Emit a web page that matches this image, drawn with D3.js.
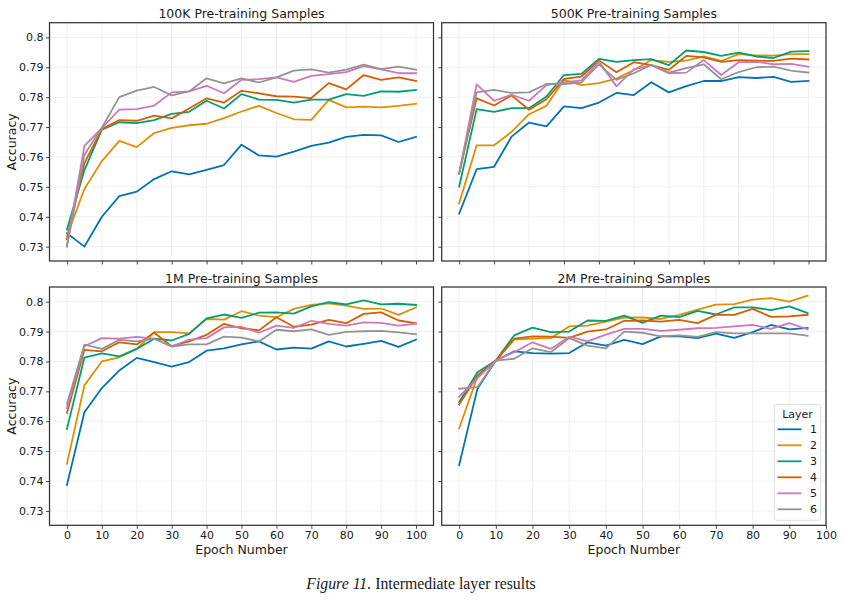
<!DOCTYPE html>
<html>
<head>
<meta charset="utf-8">
<script src="https://cdn.jsdelivr.net/npm/d3@7"></script>
<style>
  body { margin: 0; background: #fff; }
  svg { display: block; }
  text { font-family: "DejaVu Sans", sans-serif; fill: #1a1a1a; }
</style>
</head>
<body>
<svg id="chart" width="846" height="600"></svg>
<script>
// ---------------- data ----------------
const layerNames = ["1", "2", "3", "4", "5", "6"];
const layerColors = ["#0173B2", "#DE8F05", "#029E73", "#D55E00", "#CC78BC", "#949494"];
const epochs0to100 = [0,5,10,15,20,25,30,35,40,45,50,55,60,65,70,75,80,85,90,95,100];
const epochs0to95  = [0,5,10,15,20,25,30,35,40,45,50,55,60,65,70,75,80,85,90,95];
const xTicks = [0,10,20,30,40,50,60,70,80,90,100];
const yTicks = [0.73,0.74,0.75,0.76,0.77,0.78,0.79,0.80];
const panelTitles = ["100K Pre-training Samples", "500K Pre-training Samples", "1M Pre-training Samples", "2M Pre-training Samples"];

const acc100K = [
  [0.7345,0.7300,0.7400,0.7469,0.7484,0.7526,0.7552,0.7542,0.7557,0.7573,0.7641,0.7605,0.7601,0.7618,0.7637,0.7648,0.7667,0.7674,0.7672,0.7650,0.7667],
  [0.7335,0.7493,0.7586,0.7654,0.7633,0.7680,0.7697,0.7706,0.7711,0.7730,0.7752,0.7771,0.7747,0.7726,0.7724,0.7791,0.7766,0.7768,0.7766,0.7771,0.7778],
  [0.7357,0.7556,0.7691,0.7716,0.7713,0.7723,0.7744,0.7751,0.7788,0.7762,0.7810,0.7792,0.7791,0.7782,0.7792,0.7792,0.7810,0.7804,0.7819,0.7818,0.7824],
  [0.7325,0.7579,0.7693,0.7723,0.7721,0.7738,0.7729,0.7762,0.7796,0.7782,0.7821,0.7813,0.7803,0.7802,0.7797,0.7847,0.7826,0.7874,0.7858,0.7866,0.7854],
  [0.7305,0.7637,0.7696,0.7758,0.7760,0.7772,0.7816,0.7819,0.7838,0.7813,0.7858,0.7860,0.7866,0.7851,0.7871,0.7877,0.7884,0.7904,0.7893,0.7880,0.7880],
  [0.7300,0.7607,0.7698,0.7800,0.7822,0.7834,0.7806,0.7819,0.7863,0.7846,0.7863,0.7849,0.7866,0.7889,0.7893,0.7882,0.7892,0.7909,0.7894,0.7902,0.7892]
];
const acc500K = [
  [0.7411,0.7559,0.7567,0.7668,0.7715,0.7702,0.7769,0.7763,0.7782,0.7814,0.7807,0.7850,0.7816,0.7837,0.7854,0.7854,0.7867,0.7864,0.7868,0.7851,0.7854],
  [0.7445,0.7639,0.7639,0.7684,0.7743,0.7771,0.7858,0.7840,0.7847,0.7862,0.7891,0.7924,0.7918,0.7922,0.7936,0.7921,0.7944,0.7940,0.7939,0.7944,0.7944],
  [0.7501,0.7760,0.7751,0.7763,0.7763,0.7802,0.7874,0.7878,0.7928,0.7918,0.7924,0.7927,0.7907,0.7956,0.7951,0.7938,0.7949,0.7936,0.7931,0.7952,0.7954],
  [0.7545,0.7796,0.7772,0.7806,0.7758,0.7793,0.7861,0.7869,0.7923,0.7883,0.7917,0.7907,0.7891,0.7938,0.7933,0.7918,0.7924,0.7922,0.7921,0.7929,0.7926],
  [0.7545,0.7843,0.7788,0.7808,0.7788,0.7840,0.7850,0.7856,0.7919,0.7836,0.7893,0.7907,0.7880,0.7882,0.7924,0.7874,0.7917,0.7918,0.7910,0.7911,0.7902],
  [0.7543,0.7816,0.7824,0.7814,0.7816,0.7844,0.7844,0.7849,0.7910,0.7858,0.7880,0.7908,0.7882,0.7897,0.7910,0.7860,0.7884,0.7900,0.7902,0.7889,0.7882]
];
const acc1M = [
  [0.7387,0.7630,0.7711,0.7770,0.7812,0.7798,0.7783,0.7798,0.7836,0.7844,0.7857,0.7867,0.7840,0.7846,0.7843,0.7867,0.7850,0.7859,0.7869,0.7849,0.7873],
  [0.7458,0.7720,0.7800,0.7814,0.7842,0.7898,0.7898,0.7894,0.7942,0.7940,0.7968,0.7953,0.7948,0.7976,0.7989,0.7994,0.7987,0.7976,0.7977,0.7956,0.7981],
  [0.7574,0.7813,0.7827,0.7817,0.7842,0.7876,0.7870,0.7892,0.7944,0.7957,0.7946,0.7963,0.7964,0.7960,0.7984,0.7998,0.7991,0.8004,0.7991,0.7993,0.7989],
  [0.7628,0.7839,0.7834,0.7864,0.7857,0.7896,0.7851,0.7867,0.7889,0.7926,0.7911,0.7904,0.7948,0.7916,0.7923,0.7939,0.7928,0.7959,0.7964,0.7937,0.7928],
  [0.7644,0.7851,0.7878,0.7876,0.7882,0.7876,0.7850,0.7873,0.7878,0.7914,0.7916,0.7896,0.7920,0.7912,0.7936,0.7926,0.7920,0.7931,0.7929,0.7920,0.7926],
  [0.7658,0.7856,0.7842,0.7872,0.7867,0.7876,0.7850,0.7857,0.7857,0.7883,0.7880,0.7867,0.7906,0.7901,0.7907,0.7889,0.7899,0.7901,0.7902,0.7897,0.7891]
];
const acc2M = [
  [0.7453,0.7709,0.7803,0.7834,0.7828,0.7826,0.7828,0.7864,0.7853,0.7872,0.7858,0.7884,0.7884,0.7878,0.7893,0.7879,0.7898,0.7922,0.7907,0.7912],
  [0.7576,0.7750,0.7803,0.7873,0.7876,0.7878,0.7917,0.7920,0.7933,0.7947,0.7947,0.7942,0.7956,0.7973,0.7990,0.7992,0.8007,0.8012,0.8000,0.8020],
  [0.7664,0.7764,0.7803,0.7887,0.7913,0.7898,0.7900,0.7937,0.7936,0.7953,0.7929,0.7953,0.7948,0.7969,0.7957,0.7981,0.7981,0.7972,0.7984,0.7962],
  [0.7656,0.7753,0.7803,0.7876,0.7884,0.7883,0.7879,0.7900,0.7907,0.7936,0.7937,0.7933,0.7939,0.7928,0.7956,0.7956,0.7976,0.7949,0.7951,0.7956],
  [0.7682,0.7744,0.7803,0.7831,0.7864,0.7842,0.7883,0.7867,0.7890,0.7909,0.7909,0.7902,0.7906,0.7911,0.7912,0.7917,0.7922,0.7909,0.7928,0.7907],
  [0.7709,0.7714,0.7803,0.7809,0.7844,0.7831,0.7878,0.7853,0.7844,0.7900,0.7896,0.7884,0.7887,0.7882,0.7898,0.7894,0.7894,0.7894,0.7894,0.7886]
];

// ---------------- layout ----------------
const svg = d3.select("#chart");
const yDomain = [0.7252, 0.8049];
const panels = [
  { title: panelTitles[0], data: acc100K, epochs: epochs0to100, xDom: [-5, 105],    x0: 49.5,  x1: 433.5, y0: 22.7, y1: 261,   showX: false, showY: true },
  { title: panelTitles[1], data: acc500K, epochs: epochs0to100, xDom: [-5, 105],    x0: 441.7, x1: 826,   y0: 22.7, y1: 261,   showX: false, showY: false },
  { title: panelTitles[2], data: acc1M,   epochs: epochs0to100, xDom: [-5, 105],    x0: 49.5,  x1: 433.5, y0: 287,  y1: 525.3, showX: true,  showY: true },
  { title: panelTitles[3], data: acc2M,   epochs: epochs0to95,  xDom: [-4.75, 100], x0: 441.7, x1: 826,   y0: 287,  y1: 525.3, showX: true,  showY: false, legend: true }
];

panels.forEach((p, pi) => {
  const x = d3.scaleLinear().domain(p.xDom).range([p.x0, p.x1]);
  const y = d3.scaleLinear().domain(yDomain).range([p.y1, p.y0]);
  const g = svg.append("g");

  // background + grid
  g.append("rect").attr("x", p.x0).attr("y", p.y0).attr("width", p.x1 - p.x0).attr("height", p.y1 - p.y0).attr("fill", "#fff");
  g.append("g").selectAll("line").data(xTicks).join("line")
    .attr("x1", d => x(d)).attr("x2", d => x(d)).attr("y1", p.y0).attr("y2", p.y1)
    .attr("stroke", "#ececec").attr("stroke-width", 0.8);
  g.append("g").selectAll("line").data(yTicks).join("line")
    .attr("y1", d => y(d)).attr("y2", d => y(d)).attr("x1", p.x0).attr("x2", p.x1)
    .attr("stroke", "#ececec").attr("stroke-width", 0.8);

  // clip
  const clipId = "clip" + pi;
  svg.append("clipPath").attr("id", clipId).append("rect")
    .attr("x", p.x0).attr("y", p.y0).attr("width", p.x1 - p.x0).attr("height", p.y1 - p.y0);

  const line = d3.line().x((d, i) => x(p.epochs[i])).y(d => y(d));
  g.append("g").attr("clip-path", `url(#${clipId})`).selectAll("path").data(p.data).join("path")
    .attr("d", d => line(d)).attr("fill", "none")
    .attr("stroke", (d, i) => layerColors[i]).attr("stroke-width", 1.8)
    .attr("stroke-linejoin", "round").attr("stroke-linecap", "square");

  // axes
  const xAxis = d3.axisBottom(x).tickValues(xTicks).tickSize(3.5).tickPadding(2.5)
    .tickFormat(p.showX ? d3.format("d") : () => "");
  const yAxis = d3.axisLeft(y).tickValues(yTicks).tickSize(3.5).tickPadding(2.5)
    .tickFormat(p.showY ? (d => (Math.round(d * 100) / 100).toString()) : () => "");
  const gx = g.append("g").attr("transform", `translate(0,${p.y1})`).call(xAxis);
  const gy = g.append("g").attr("transform", `translate(${p.x0},0)`).call(yAxis);
  [gx, gy].forEach(a => {
    a.select(".domain").remove();
    a.selectAll(".tick line").attr("stroke", "#333").attr("stroke-width", 0.9);
    a.selectAll(".tick text").attr("font-family", "DejaVu Sans").attr("font-size", 11).attr("fill", "#111");
  });

  // frame
  g.append("rect").attr("x", p.x0).attr("y", p.y0).attr("width", p.x1 - p.x0).attr("height", p.y1 - p.y0)
    .attr("fill", "none").attr("stroke", "#333").attr("stroke-width", 1.25);

  // title
  g.append("text").attr("x", (p.x0 + p.x1) / 2).attr("y", p.y0 - 4.5)
    .attr("text-anchor", "middle").attr("font-size", 12.5).attr("fill", "#111").text(p.title);

  if (p.showY) {
    g.append("text").attr("transform", `translate(16,${(p.y0 + p.y1) / 2}) rotate(-90)`)
      .attr("text-anchor", "middle").attr("font-size", 12.5).attr("fill", "#111").text("Accuracy");
  }
  if (p.showX) {
    g.append("text").attr("x", (p.x0 + p.x1) / 2).attr("y", 553.5)
      .attr("text-anchor", "middle").attr("font-size", 12.5).attr("fill", "#111").text("Epoch Number");
  }

  if (p.legend) {
    const lg = g.append("g");
    lg.append("rect").attr("x", 774.3).attr("y", 404.3).attr("width", 46.4).attr("height", 116)
      .attr("rx", 2.5).attr("fill", "#fff").attr("fill-opacity", 0.85)
      .attr("stroke", "#d9d9d9").attr("stroke-width", 0.9);
    lg.append("text").attr("x", 797.5).attr("y", 417.5).attr("text-anchor", "middle")
      .attr("font-size", 11).attr("fill", "#111").text("Layer");
    const items = lg.selectAll("g.item").data(layerNames).join("g").attr("class", "item")
      .attr("transform", (d, i) => `translate(0,${429.3 + i * 16})`);
    items.append("line").attr("x1", 777.5).attr("x2", 801.5).attr("y1", 0).attr("y2", 0)
      .attr("stroke", (d, i) => layerColors[i]).attr("stroke-width", 1.8);
    items.append("text").attr("x", 810).attr("y", 4).attr("font-size", 11).attr("fill", "#111").text(d => d);
  }
});

// caption
const cap = svg.append("text").attr("x", 421).attr("y", 588.5).attr("text-anchor", "middle")
  .style("font-family", "'Liberation Serif', 'Times New Roman', serif").attr("font-size", 15.8).attr("fill", "#111");
cap.append("tspan").style("font-style", "italic").text("Figure 11.");
cap.append("tspan").text(" Intermediate layer results");
</script>
</body>
</html>
